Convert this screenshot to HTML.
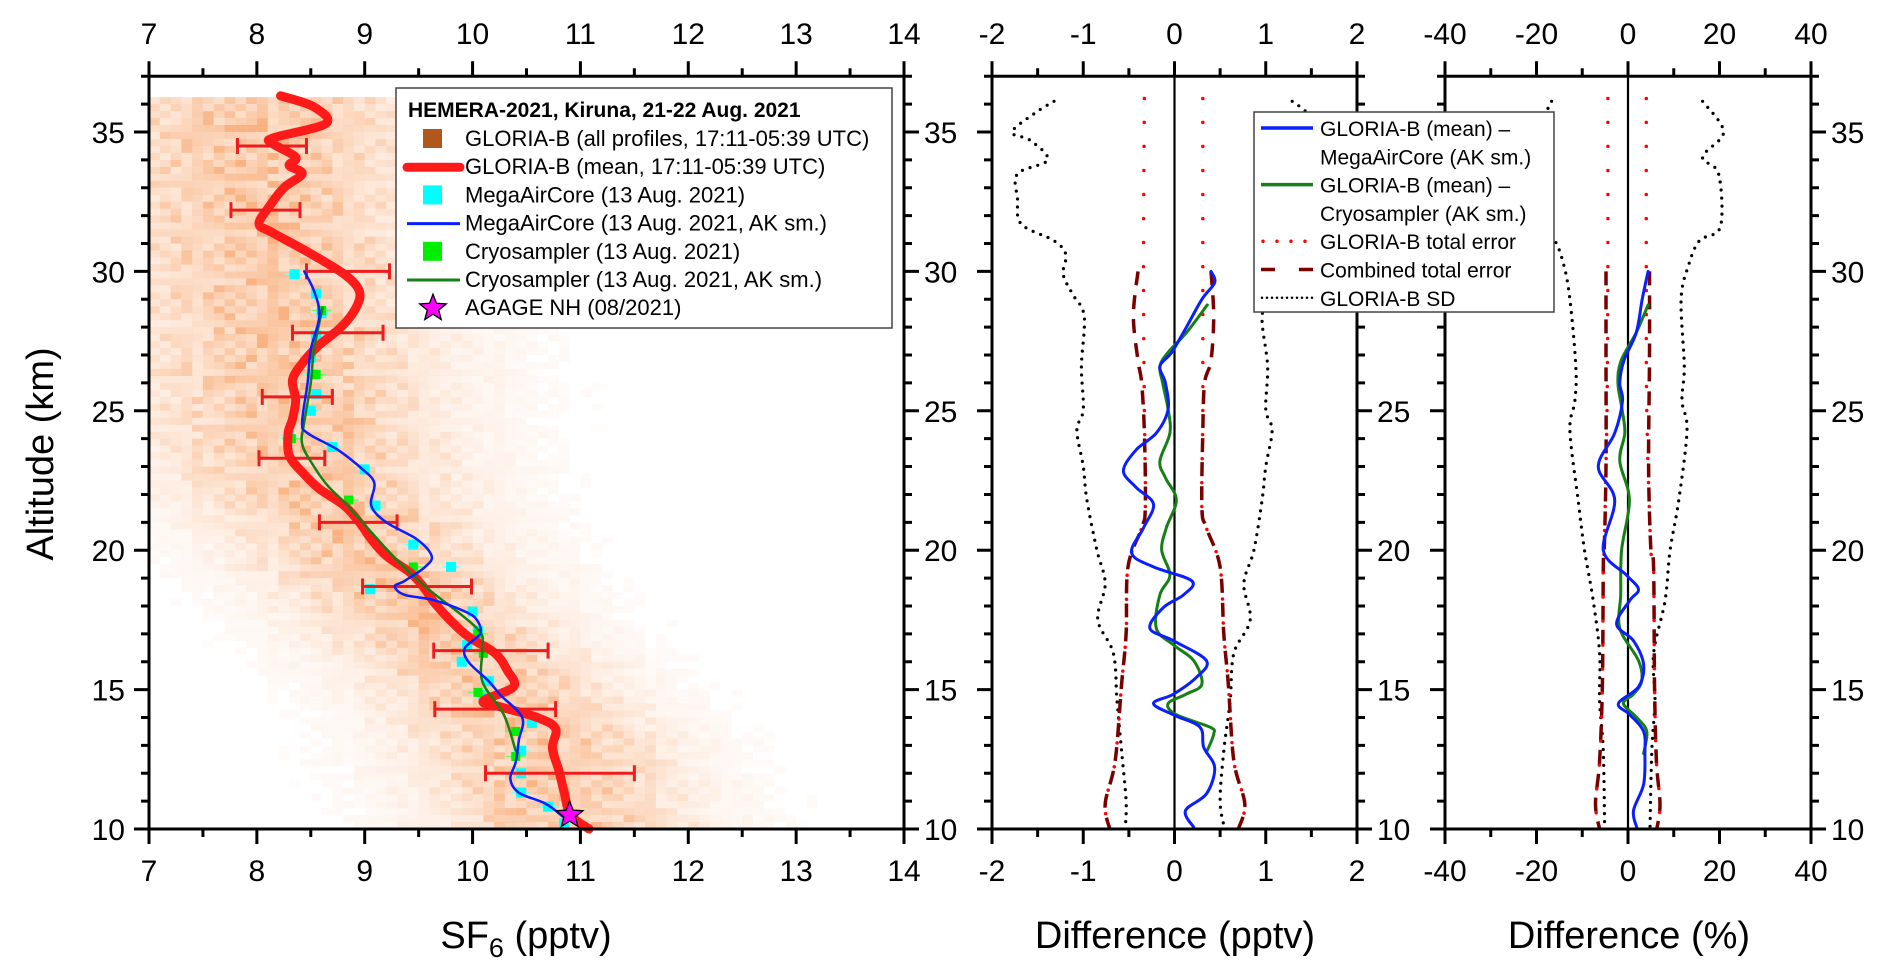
<!DOCTYPE html>
<html><head><meta charset="utf-8"><style>
html,body{margin:0;padding:0;background:#fff;}
svg{display:block;font-family:"Liberation Sans",Arial,sans-serif;}
</style></head><body>
<svg id="chart" width="1892" height="974" viewBox="0 0 1892 974" xmlns="http://www.w3.org/2000/svg">
<g id="bg"></g>
<g id="marks"></g>
<g id="axes"></g>
<g id="legends"></g>
</svg>
<script>
// ---------- data ----------
const distAlt    = [36.4, 35, 30, 25, 22, 20, 17, 15, 13, 10];
const distCenter = [8.0, 8.0, 8.1, 8.3, 8.6, 9.0, 9.7, 10.2, 10.6, 10.9];
const distWidth  = [1.3, 1.3, 1.25, 1.2, 1.1, 1.0, 0.95, 0.95, 1.0, 1.0];
const meanAlt = [36.3,35.9,35.3,34.8,34.6,34.1,33.8,33.5,33.0,32.3,31.7,31.4,30.7,29.9,29.3,28.7,28.0,27.3,26.7,26.1,25.4,24.7,24.2,23.4,22.8,22.2,21.6,21.0,20.4,19.8,19.2,18.7,18.1,17.5,16.9,16.3,15.7,15.1,14.6,14.4,14.0,13.6,12.9,12.1,11.3,10.5,10.0];
const meanSf6 = [8.22,8.53,8.64,8.16,8.14,8.36,8.30,8.42,8.25,8.11,8.02,8.14,8.47,8.81,8.95,8.92,8.78,8.56,8.42,8.33,8.36,8.33,8.29,8.30,8.42,8.58,8.81,8.95,9.06,9.20,9.42,9.54,9.65,9.79,9.96,10.21,10.32,10.38,10.10,10.24,10.60,10.77,10.74,10.80,10.85,10.91,11.08];
const errAlt = [34.5,32.2,30.0,27.8,25.5,23.3,21.0,18.7,16.4,14.3,12.0];
const errLo  = [7.82,7.76,8.46,8.33,8.05,8.02,8.58,8.98,9.64,9.65,10.12];
const errHi  = [8.46,8.40,9.23,9.17,8.70,8.63,9.30,9.99,10.70,10.77,11.50];
const macAlt = [30.0,29.3,28.4,27.2,26.0,24.6,24.2,23.6,22.9,22.4,21.6,21.0,20.4,19.8,19.4,18.9,18.7,18.4,18.2,17.8,17.5,17.0,16.5,16.0,15.3,14.8,14.0,13.2,12.4,11.8,11.3,10.9,10.4];
const macSf6 = [8.44,8.53,8.58,8.50,8.47,8.42,8.47,8.75,8.98,9.09,9.06,9.20,9.48,9.62,9.56,9.37,9.28,9.37,9.65,9.93,10.04,10.07,9.93,9.96,10.15,10.26,10.46,10.43,10.40,10.35,10.43,10.68,10.85];
const cryAlt = [28.7,27.2,26.0,24.6,23.8,23.0,22.3,21.6,19.8,18.7,17.2,16.5,15.3,14.1,12.8];
const crySf6 = [8.61,8.53,8.50,8.44,8.42,8.53,8.66,8.84,9.26,9.56,10.04,10.09,10.09,10.29,10.40];
const macPtAlt = [29.9,29.2,28.5,27.7,26.9,26.3,25.6,25.0,24.1,23.7,22.9,21.6,20.2,19.4,18.6,17.8,17.1,16.6,16.0,15.3,14.8,13.8,12.8,12.0,11.3,10.8,10.2];
const macPtSf6 = [8.35,8.55,8.60,8.55,8.50,8.52,8.55,8.50,8.30,8.70,9.00,9.10,9.45,9.80,9.05,10.00,10.05,9.95,9.90,10.15,10.10,10.55,10.45,10.45,10.45,10.70,10.85];
const cryPtAlt = [28.6,26.3,24.0,21.8,19.4,17.0,16.3,14.9,13.5,12.6];
const cryPtSf6 = [8.60,8.55,8.32,8.85,9.45,10.05,10.10,10.05,10.40,10.40];
const agageAlt = [10.5];
const agageSf6 = [10.9];

const dMacAlt = [30.0,29.6,29.0,28.0,27.1,26.6,26.0,25.05,24.2,23.6,22.85,22.25,21.65,20.8,19.9,19.4,18.9,18.4,17.95,17.2,16.75,16.04,15.44,14.84,14.5,14.07,13.65,12.93,12.2,11.26,10.66,10.06];
const dMacVal = [0.40,0.44,0.30,0.13,-0.03,-0.16,-0.10,-0.07,-0.20,-0.42,-0.56,-0.42,-0.23,-0.34,-0.47,-0.23,0.19,0.10,-0.12,-0.27,-0.01,0.35,0.24,-0.01,-0.23,0.005,0.28,0.32,0.44,0.35,0.12,0.21];
const dCryAlt = [28.8,27.8,27.1,26.6,26.0,25.05,24.2,23.2,22.6,21.8,20.8,20.0,19.1,18.4,17.2,16.6,16.04,15.2,14.84,14.5,14.1,13.65,13.4,12.75];
const dCryVal = [0.36,0.13,-0.07,-0.16,-0.13,-0.07,-0.05,-0.16,-0.10,0.02,-0.09,-0.14,-0.05,-0.16,-0.20,-0.01,0.21,0.30,0.13,-0.07,0.02,0.39,0.43,0.35];
const totAlt = [36.2,30.0,25.0,21.5,20.8,19.4,17.0,15.2,12.45,10.9,10.0];
const totLo  = [-0.33,-0.34,-0.33,-0.32,-0.36,-0.51,-0.53,-0.58,-0.65,-0.76,-0.71];
const totHi  = [0.31,0.31,0.31,0.30,0.35,0.50,0.54,0.59,0.65,0.77,0.70];
const combAlt = [30.0,28.4,26.8,26.0,24.2,21.5,20.8,19.4,17.0,15.2,12.45,10.9,10.0];
const combLo  = [-0.40,-0.45,-0.40,-0.36,-0.33,-0.32,-0.36,-0.51,-0.53,-0.58,-0.65,-0.76,-0.71];
const combHi  = [0.40,0.43,0.40,0.33,0.31,0.30,0.35,0.50,0.54,0.59,0.65,0.77,0.70];
const sdAlt = [36.1,35.7,35.0,34.7,34.0,33.5,32.6,31.7,31.1,30.6,29.9,29.2,28.4,26.6,25.05,24.3,23.0,21.8,20.0,18.8,17.5,16.3,14.6,12.8,11.0,10.0];
const sdLo  = [-1.32,-1.52,-1.78,-1.58,-1.39,-1.72,-1.72,-1.68,-1.32,-1.19,-1.22,-1.12,-0.99,-1.02,-1.00,-1.07,-1.00,-0.96,-0.85,-0.76,-0.84,-0.67,-0.63,-0.58,-0.53,-0.54];
const sdHi  = [1.29,1.45,1.60,1.45,1.35,1.55,1.55,1.50,1.25,1.15,1.15,1.08,0.96,1.02,1.00,1.07,1.00,0.96,0.87,0.76,0.83,0.65,0.61,0.54,0.50,0.55];

const pMacAlt = [30.0,29.0,27.8,26.8,26.0,25.36,24.2,23.0,21.8,20.0,19.1,18.6,18.2,17.35,16.75,15.9,15.1,14.5,14.1,13.5,12.7,11.6,10.66,10.06];
const pMacVal = [4.4,3.1,1.8,-0.9,-1.8,-1.2,-2.9,-6.5,-2.9,-5.4,-0.3,2.3,0.4,-2.5,1.2,3.4,2.3,-2.1,0.4,3.4,3.7,3.4,1.2,1.9];
const pCryAlt = [28.8,27.8,26.8,26.0,25.05,24.2,23.2,21.8,20.0,18.4,17.2,16.04,15.3,14.84,14.5,14.0,13.5,12.7];
const pCryVal = [4.4,1.8,-1.5,-2.2,-1.3,-0.7,-1.8,0.3,-1.4,-1.6,-1.8,2.3,3.0,1.2,-1.0,1.9,4.1,3.4];
const pTotAlt = [36.2,30.0,25.0,20.0,19.4,15.2,12.45,10.9,10.0];
const pTotLo  = [-4.4,-4.4,-4.6,-5.2,-5.4,-5.6,-6.2,-7.1,-6.2];
const pTotHi  = [4.0,4.0,4.1,5.0,5.6,5.8,6.2,7.0,6.3];
const pCombAlt = [30.0,27.0,23.0,20.0,19.4,15.2,12.45,10.9,10.0];
const pCombLo  = [-4.8,-4.8,-4.8,-5.2,-5.4,-5.6,-6.2,-7.1,-6.2];
const pCombHi  = [4.7,4.7,4.5,5.0,5.6,5.8,6.2,7.0,6.3];
const pSdAlt = [36.1,35.0,34.1,33.5,31.6,31.1,30.2,29.0,26.6,25.36,24.3,21.8,20.0,18.2,16.3,14.6,12.8,10.0];
const pSdLo  = [-16.7,-19.5,-17.0,-19.5,-19.5,-16.0,-14.0,-12.7,-11.4,-11.6,-12.7,-10.9,-9.5,-7.6,-6.2,-6.2,-5.4,-5.1];
const pSdHi  = [16.3,20.9,16.3,19.8,20.2,15.6,13.2,11.6,12.3,11.8,12.9,11.1,9.2,8.1,5.6,5.9,5.2,4.8];

const altTicks = [10,15,20,25,30,35];
const x1Ticks = [7,8,9,10,11,12,13,14];
const x2Ticks = [-2,-1,0,1,2];
const x3Ticks = [-40,-20,0,20,40];

// ---------- scales ----------
const Y0=829, PXKM=27.88, ALT_MIN=10, ALT_MAX=37;
const yA = a => Y0-(a-ALT_MIN)*PXKM;
const TOP=yA(ALT_MAX), BOT=Y0;
const P1={x0:149,x1:904,v0:7,v1:14};
const P2={x0:992,x1:1357,v0:-2,v1:2};
const P3={x0:1445,x1:1811,v0:-40,v1:40};
const sx=(p,v)=>p.x0+(v-p.v0)*(p.x1-p.x0)/(p.v1-p.v0);
const NS='http://www.w3.org/2000/svg';
function mk(tag,attrs,parent){const e=document.createElementNS(NS,tag);for(const k in attrs)e.setAttribute(k,attrs[k]);parent.appendChild(e);return e;}
function smoothPath(pts){
  if(pts.length<2)return '';
  let d='M'+pts[0][0].toFixed(1)+','+pts[0][1].toFixed(1);
  for(let i=0;i<pts.length-1;i++){
    const p0=pts[Math.max(0,i-1)],p1=pts[i],p2=pts[i+1],p3=pts[Math.min(pts.length-1,i+2)];
    const c1=[p1[0]+(p2[0]-p0[0])/6,p1[1]+(p2[1]-p0[1])/6];
    const c2=[p2[0]-(p3[0]-p1[0])/6,p2[1]-(p3[1]-p1[1])/6];
    d+='C'+c1[0].toFixed(1)+','+c1[1].toFixed(1)+' '+c2[0].toFixed(1)+','+c2[1].toFixed(1)+' '+p2[0].toFixed(1)+','+p2[1].toFixed(1);
  }
  return d;
}
const pts=(p,alts,vals)=>alts.map((a,i)=>[sx(p,vals[i]),yA(a)]);
function interp(a,xs,ys){
  for(let i=0;i<xs.length-1;i++){ if(a<=xs[i]&&a>=xs[i+1]){const t=(a-xs[i])/(xs[i+1]-xs[i]);return ys[i]+t*(ys[i+1]-ys[i]);} }
  return a>xs[0]?ys[0]:ys[ys.length-1];
}

const bg=document.getElementById('bg'), marks=document.getElementById('marks'), axes=document.getElementById('axes'), legends=document.getElementById('legends');

// ---------- heatmap ----------
const cp=mk('clipPath',{id:'clip1'},bg);
mk('rect',{x:P1.x0,y:TOP,width:P1.x1-P1.x0,height:BOT-TOP},cp);
const hm=mk('g',{'clip-path':'url(#clip1)'},bg);


for(let j=0;j<105;j++){
  const a=10+j*0.25; if(a>36.2)break;
  const c=interp(a+0.125,distAlt,distCenter), w=interp(a+0.125,distAlt,distWidth);
  for(let i=0;i<70;i++){
    const v=7+i*0.1+0.05, z=(v-c)/w;
    let o=0.46*Math.exp(-z*z*0.9)+0.10*Math.exp(-z*z*0.22);
    const h=((i*7+j*13+((i*j)%7))%9)/8;
    o*=0.5+0.5*h+ (h>0.9?0.15:0);
    if(o<0.035)continue;
    mk('rect',{x:sx(P1,7+i*0.1).toFixed(1),y:yA(a+0.25).toFixed(1),width:10.8,height:7,fill:'#f5883c','fill-opacity':o.toFixed(3)},hm);
  }
}

// ---------- panel 1 marks ----------
function line(parent,d,stroke,w,name,extra){const e=mk('path',Object.assign({d:d,fill:'none',stroke:stroke,'stroke-width':w,'stroke-linejoin':'round','stroke-linecap':'round'},extra||{}),parent);return e;}
const g1=mk('g',{},marks);


macPtAlt.forEach((a,i)=>{const x=sx(P1,macPtSf6[i]),y=yA(a);
  mk('line',{x1:x-9,x2:x+9,y1:y,y2:y,stroke:'#7fffff','stroke-width':1.5},g1);
  const r=mk('rect',{x:x-5,y:y-5,width:10,height:10,fill:'#00ffff'},g1);
  
  });
cryPtAlt.forEach((a,i)=>{const x=sx(P1,cryPtSf6[i]),y=yA(a);
  mk('line',{x1:x-10,x2:x+10,y1:y,y2:y,stroke:'#66ff66','stroke-width':1.5},g1);
  const r=mk('rect',{x:x-4.5,y:y-4.5,width:9,height:9,fill:'#00ee00'},g1);
  
  });
line(g1,smoothPath(pts(P1,meanAlt,meanSf6)),'#ff1a1a',9,'gloria-b-mean-line');
errAlt.forEach((a,i)=>{const y=yA(a),x1=sx(P1,errLo[i]),x2=sx(P1,errHi[i]);
  const e=mk('path',{d:`M${x1},${y}H${x2}M${x1},${y-8}V${y+8}M${x2},${y-8}V${y+8}`,stroke:'#ee1c1c','stroke-width':3,fill:'none'},g1);
  
  });
line(g1,smoothPath(pts(P1,cryAlt,crySf6)),'#168016',2.5,'cryosampler-ak-line');
line(g1,smoothPath(pts(P1,macAlt,macSf6)),'#0a1eff',2.5,'megaaircore-ak-line');
function star(cx,cy,R,r){let d='';for(let k=0;k<10;k++){const ang=-Math.PI/2+k*Math.PI/5,rr=k%2?r:R;d+=(k?'L':'M')+(cx+rr*Math.cos(ang)).toFixed(1)+','+(cy+rr*Math.sin(ang)).toFixed(1);}return d+'Z';}
agageAlt.forEach((a,i)=>{const s=mk('path',{d:star(sx(P1,agageSf6[i]),yA(a),14,6),fill:'#ff00ff',stroke:'#000','stroke-width':1.3},g1);
  
  });

// ---------- panel 2 & 3 marks ----------
function diffPanel(P,o,name){
  const g=mk('g',{},marks);
  
  
  line(g,smoothPath(pts(P,o.sdAlt,o.sdLo)),'#000',3.2,'sd-left',{'stroke-dasharray':'0 8'});
  line(g,smoothPath(pts(P,o.sdAlt,o.sdHi)),'#000',3.2,'sd-right',{'stroke-dasharray':'0 8'});
  line(g,smoothPath(pts(P,o.combAlt,o.combLo)),'#7a0000',3.5,'combined-error-left',{'stroke-dasharray':'14 10','stroke-linecap':'butt'});
  line(g,smoothPath(pts(P,o.combAlt,o.combHi)),'#7a0000',3.5,'combined-error-right',{'stroke-dasharray':'14 10','stroke-linecap':'butt'});
  line(g,smoothPath(pts(P,o.totAlt,o.totLo)),'#ff0000',3.5,'total-error-left',{'stroke-dasharray':'0 24'});
  line(g,smoothPath(pts(P,o.totAlt,o.totHi)),'#ff0000',3.5,'total-error-right',{'stroke-dasharray':'0 24'});
  const zx=sx(P,0);
  const zl=mk('line',{x1:zx,x2:zx,y1:TOP,y2:BOT,stroke:'#000','stroke-width':2.2},g);
  
  
  line(g,smoothPath(pts(P,o.cAlt,o.cVal)),'#168016',3,'gloria-minus-cryosampler');
  line(g,smoothPath(pts(P,o.mAlt,o.mVal)),'#0a1eff',3,'gloria-minus-megaaircore');
}
diffPanel(P2,{sdAlt,sdLo,sdHi,combAlt,combLo,combHi,totAlt,totLo,totHi,cAlt:dCryAlt,cVal:dCryVal,mAlt:dMacAlt,mVal:dMacVal},'panel2-series');
diffPanel(P3,{sdAlt:pSdAlt,sdLo:pSdLo,sdHi:pSdHi,combAlt:pCombAlt,combLo:pCombLo,combHi:pCombHi,totAlt:pTotAlt,totLo:pTotLo,totHi:pTotHi,cAlt:pCryAlt,cVal:pCryVal,mAlt:pMacAlt,mVal:pMacVal},'panel3-series');

// ---------- axes ----------
function text(parent,x,y,s,size,anchor,name,extra){const t=mk('text',Object.assign({x:x,y:y,'font-size':size,'text-anchor':anchor,fill:'#000'},extra||{}),parent);t.textContent=s;return t;}
function axisPanel(P,xt,minorStep,leftLabels,rightLabels,name){
  const g=mk('g',{},axes);
  
  
  const fr=mk('rect',{x:P.x0,y:TOP,width:P.x1-P.x0,height:BOT-TOP,fill:'none',stroke:'#000','stroke-width':3},g);
  
  
  let d='';
  for(let v=P.v0;v<=P.v1+1e-9;v+=minorStep){const x=sx(P,v);const major=xt.some(t=>Math.abs(t-v)<1e-9);const L=major?15:8;
    d+=`M${x},${TOP}V${TOP-L}M${x},${BOT}V${BOT+L}`;}
  for(let a=10;a<=37;a++){const y=yA(a);const L=a%5===0?15:8;d+=`M${P.x0},${y}H${P.x0-L}M${P.x1},${y}H${P.x1+L}`;}
  mk('path',{d:d,stroke:'#000','stroke-width':3,fill:'none'},g);
  xt.forEach(v=>{const x=sx(P,v);
    text(g,x,44,String(v),30,'middle','top-tick-label');
    text(g,x,881,String(v),30,'middle','bottom-tick-label');});
  altTicks.forEach(a=>{const y=yA(a)+11;
    if(leftLabels)text(g,P.x0-24,y,String(a),30,'end','y-tick-label');
    if(rightLabels)text(g,P.x1+20,y,String(a),30,'start','y-tick-label-right');});
}
axisPanel(P1,x1Ticks,0.5,true,true,'panel1');
axisPanel(P2,x2Ticks,0.5,false,true,'panel2');
axisPanel(P3,x3Ticks,10,false,true,'panel3');
const xt1=text(axes,526,948,'SF',38,'middle','x-axis-title-sf6');
const sub=mk('tspan',{'font-size':27,dy:9},xt1);sub.textContent='6';
const rest=mk('tspan',{dy:-9},xt1);rest.textContent=' (pptv)';
text(axes,1175,948,'Difference (pptv)',38,'middle','x-axis-title-diff-pptv');
text(axes,1629,948,'Difference (%)',38,'middle','x-axis-title-diff-percent');
text(axes,0,0,'Altitude (km)',38,'middle','y-axis-title',{transform:'translate(53,454) rotate(-90)'});

// ---------- legend 1 ----------
const L1=mk('g',{},legends);


mk('rect',{x:396,y:88,width:496,height:240,fill:'#fff',stroke:'#444','stroke-width':1.5},L1);
text(L1,408,117,'HEMERA-2021, Kiruna, 21-22 Aug. 2021',21,'start','legend-title',{'font-weight':'bold'});
const l1Labels=['GLORIA-B (all profiles, 17:11-05:39 UTC)','GLORIA-B (mean, 17:11-05:39 UTC)','MegaAirCore (13 Aug. 2021)','MegaAirCore (13 Aug. 2021, AK sm.)','Cryosampler (13 Aug. 2021)','Cryosampler (13 Aug. 2021, AK sm.)','AGAGE NH (08/2021)'];
l1Labels.forEach((s,i)=>{const y=146+i*28.2;
  const e=mk('g',{},L1);
  
  
  if(i===0)mk('rect',{x:423,y:y-17,width:19,height:19,fill:'#b0581c'},e);
  if(i===1)mk('line',{x1:407,x2:460,y1:y-7,y2:y-7,stroke:'#ff1a1a','stroke-width':9,'stroke-linecap':'round'},e);
  if(i===2)mk('rect',{x:423,y:y-17,width:19,height:19,fill:'#00ffff'},e);
  if(i===3)mk('line',{x1:407,x2:460,y1:y-7,y2:y-7,stroke:'#0a1eff','stroke-width':3},e);
  if(i===4)mk('rect',{x:423,y:y-17,width:19,height:19,fill:'#00ee00'},e);
  if(i===5)mk('line',{x1:407,x2:460,y1:y-7,y2:y-7,stroke:'#168016','stroke-width':3},e);
  if(i===6)mk('path',{d:star(433,y-7,14,6),fill:'#ff00ff',stroke:'#000','stroke-width':1.3},e);
  text(e,465,y,s,22,'start','legend-label');});

// ---------- legend 2 ----------
const L2=mk('g',{},legends);


mk('rect',{x:1254,y:112,width:300,height:200,fill:'#fff',stroke:'#444','stroke-width':1.5},L2);
const l2Labels=['GLORIA-B (mean) –','MegaAirCore (AK sm.)','GLORIA-B (mean) –','Cryosampler (AK sm.)','GLORIA-B total error','Combined total error','GLORIA-B SD'];
l2Labels.forEach((s,i)=>{const y=136+i*28.3;
  const e=mk('g',{},L2);
  
  
  const ly=y-8;
  if(i===0)mk('line',{x1:1261,x2:1313,y1:ly,y2:ly,stroke:'#0a1eff','stroke-width':3.5},e);
  if(i===2)mk('line',{x1:1261,x2:1313,y1:ly,y2:ly,stroke:'#168016','stroke-width':3.5},e);
  if(i===4)mk('line',{x1:1263,x2:1313,y1:ly,y2:ly,stroke:'#ff0000','stroke-width':3.5,'stroke-dasharray':'0 14','stroke-linecap':'round'},e);
  if(i===5)mk('line',{x1:1261,x2:1313,y1:ly,y2:ly,stroke:'#7a0000','stroke-width':3.5,'stroke-dasharray':'14 24'},e);
  if(i===6)mk('line',{x1:1262,x2:1313,y1:ly,y2:ly,stroke:'#000','stroke-width':2.5,'stroke-dasharray':'0 5','stroke-linecap':'round'},e);
  text(e,1320,y,s,21,'start','legend-label');});
</script>
</body></html>
